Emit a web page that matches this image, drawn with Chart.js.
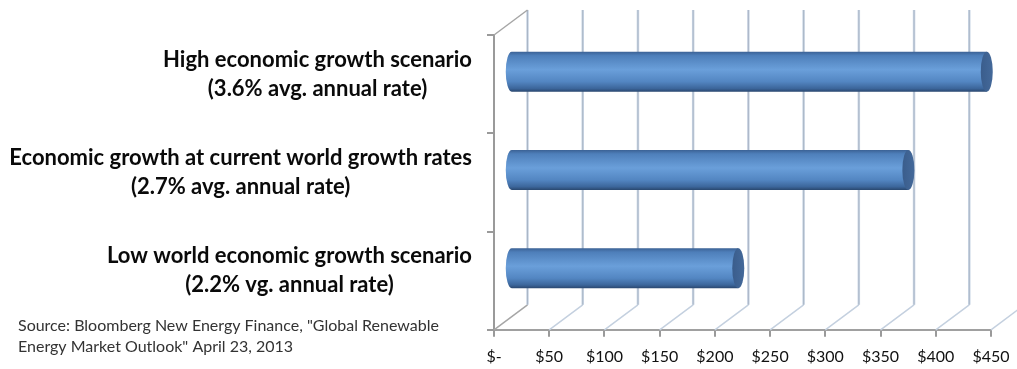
<!DOCTYPE html>
<html>
<head>
<meta charset="utf-8">
<script src="https://cdn.jsdelivr.net/npm/chart.js@4/dist/chart.umd.min.js"></script>
<style>
  html, body { margin: 0; padding: 0; background: #fff; }
  #wrap { width: 1017px; height: 369px; position: relative; }
</style>
</head>
<body>
<div id="wrap"><canvas id="chartjs-0"></canvas></div>
<script>
// scenario names (two lines each) and investment values, $bn
var scenarios = [
    ["High economic growth scenario", "(3.6% avg. annual rate)"],
    ["Economic growth at current world growth rates", "(2.7% avg. annual rate)"],
    ["Low world economic growth scenario", "(2.2% vg. annual rate)"]
];
var investment = [431, 360, 206];
var axisMax = 450;
var axisStep = 50;
var sourceLines = [
    "Source: Bloomberg New Energy Finance, \"Global Renewable",
    "Energy Market Outlook\" April 23, 2013"
];

// depth of the fake 3D box
var depthX = 33.5;
var depthY = -25;

var labelFont = "bold 22px Lato";

/* back walls, floor diagonals and back gridlines */
var wallsPlugin = {
    id: "walls",
    beforeDatasetsDraw: function(chart) {
        var ctx = chart.ctx;
        var area = chart.chartArea;
        var xs = chart.scales.x;
        ctx.save();

        // gridlines on the back wall + floor diagonals
        xs.ticks.forEach(function(t, i) {
            var px = xs.getPixelForValue(t.value);
            ctx.lineWidth = 1.5;
            ctx.strokeStyle = i === 0 ? "#a6a6a6" : "#c4d0df";
            ctx.beginPath();
            ctx.moveTo(px, area.bottom);
            ctx.lineTo(px + depthX, area.bottom + depthY);
            ctx.stroke();
            ctx.lineWidth = 2.5;
            ctx.strokeStyle = "#c9d5e4";
            ctx.beginPath();
            ctx.moveTo(px + depthX, area.bottom + depthY);
            ctx.lineTo(px + depthX, area.top + depthY);
            ctx.stroke();
            ctx.lineWidth = 1;
            ctx.strokeStyle = "#aab6c6";
            ctx.beginPath();
            ctx.moveTo(px + depthX, area.bottom + depthY);
            ctx.lineTo(px + depthX, area.top + depthY);
            ctx.stroke();
        });

        // side wall top edge
        ctx.lineWidth = 1.5;
        ctx.strokeStyle = "#a6a6a6";
        ctx.beginPath();
        ctx.moveTo(area.left, area.top);
        ctx.lineTo(area.left + depthX, area.top + depthY);
        ctx.stroke();
        ctx.restore();
    }
};

/* cylinders, placed half way into the box */
var cylinderPlugin = {
    id: "cylinders",
    afterDatasetsDraw: function(chart) {
        var ctx = chart.ctx;
        var meta = chart.getDatasetMeta(0);
        var rx = 6;
        ctx.save();
        meta.data.forEach(function(bar) {
            var x0 = bar.base + depthX / 2;
            var x1 = bar.x + depthX / 2;
            var yc = bar.y + depthY / 2;
            var h = bar.height;
            var top = yc - h / 2;
            var bot = yc + h / 2;

            var grad = ctx.createLinearGradient(0, top, 0, bot);
            grad.addColorStop(0, "#3b6194");
            grad.addColorStop(0.1, "#4e7fba");
            grad.addColorStop(0.45, "#6a9fda");
            grad.addColorStop(0.75, "#5386c2");
            grad.addColorStop(0.92, "#3c669b");
            grad.addColorStop(1, "#2a4870");

            ctx.beginPath();
            ctx.moveTo(x1, top);
            ctx.lineTo(x0, top);
            ctx.ellipse(x0, yc, rx, h / 2, 0, -Math.PI / 2, Math.PI / 2, true);
            ctx.lineTo(x1, bot);
            ctx.closePath();
            ctx.fillStyle = grad;
            ctx.fill();

            // end cap
            var capGrad = ctx.createLinearGradient(x1 - rx, 0, x1 + rx, 0);
            capGrad.addColorStop(0, "#3a5d8c");
            capGrad.addColorStop(1, "#44699a");
            ctx.beginPath();
            ctx.ellipse(x1, yc, rx, h / 2, 0, 0, Math.PI * 2);
            ctx.fillStyle = capGrad;
            ctx.fill();
        });
        ctx.restore();
    }
};

/* category names, right aligned block with centred lines */
var namesPlugin = {
    id: "names",
    afterDraw: function(chart) {
        var ctx = chart.ctx;
        var ys = chart.scales.y;
        var rightEdge = 472;
        var lineH = 29;
        ctx.save();
        ctx.font = labelFont;
        ctx.fillStyle = "#0a0a0a";
        ctx.textAlign = "center";
        ctx.textBaseline = "middle";
        scenarios.forEach(function(lines, i) {
            var w = 0;
            lines.forEach(function(s) { w = Math.max(w, ctx.measureText(s).width); });
            var cx = rightEdge - w / 2;
            var cy = ys.getPixelForValue(i) - 10;
            lines.forEach(function(s, j) {
                ctx.fillText(s, cx, cy + (j - (lines.length - 1) / 2) * lineH);
            });
        });

        // source note
        ctx.font = "16px Lato";
        ctx.fillStyle = "#333";
        ctx.textAlign = "left";
        ctx.fillText(sourceLines[0], 18, 326);
        ctx.fillText(sourceLines[1], 18, 347);
        ctx.restore();
    }
};

var ctx0 = document.getElementById("chartjs-0");
var myChart = new Chart(ctx0, {
    type: "bar",
    data: {
        labels: scenarios,
        datasets: [{
            data: investment,
            backgroundColor: "rgba(0,0,0,0)",
            barThickness: 40
        }]
    },
    options: {
        indexAxis: "y",
        responsive: true,
        maintainAspectRatio: false,
        animation: false,
        layout: { padding: { left: 487, right: 26, top: 35, bottom: -7 } },
        plugins: {
            legend: { display: false },
            tooltip: { enabled: false }
        },
        scales: {
            x: {
                min: 0,
                max: axisMax,
                // let the last label hang into the right margin
                afterFit: function(scale) { scale.paddingRight = 0; },
                ticks: {
                    stepSize: axisStep,
                    padding: 10,
                    color: "#111",
                    font: { family: "Lato", size: 16 },
                    callback: function(v) { return v === 0 ? "$-" : "$" + v; }
                },
                grid: { drawOnChartArea: false, tickLength: 7, color: "#9a9a9a", lineWidth: 2 },
                border: { color: "#a0a0a0", width: 2 }
            },
            y: {
                ticks: { display: false },
                grid: { drawOnChartArea: false, tickLength: 7, color: "#9a9a9a", lineWidth: 2, offset: true },
                border: { color: "#9a9a9a", width: 2 }
            }
        }
    },
    plugins: [wallsPlugin, cylinderPlugin, namesPlugin]
});
</script>
</body>
</html>
